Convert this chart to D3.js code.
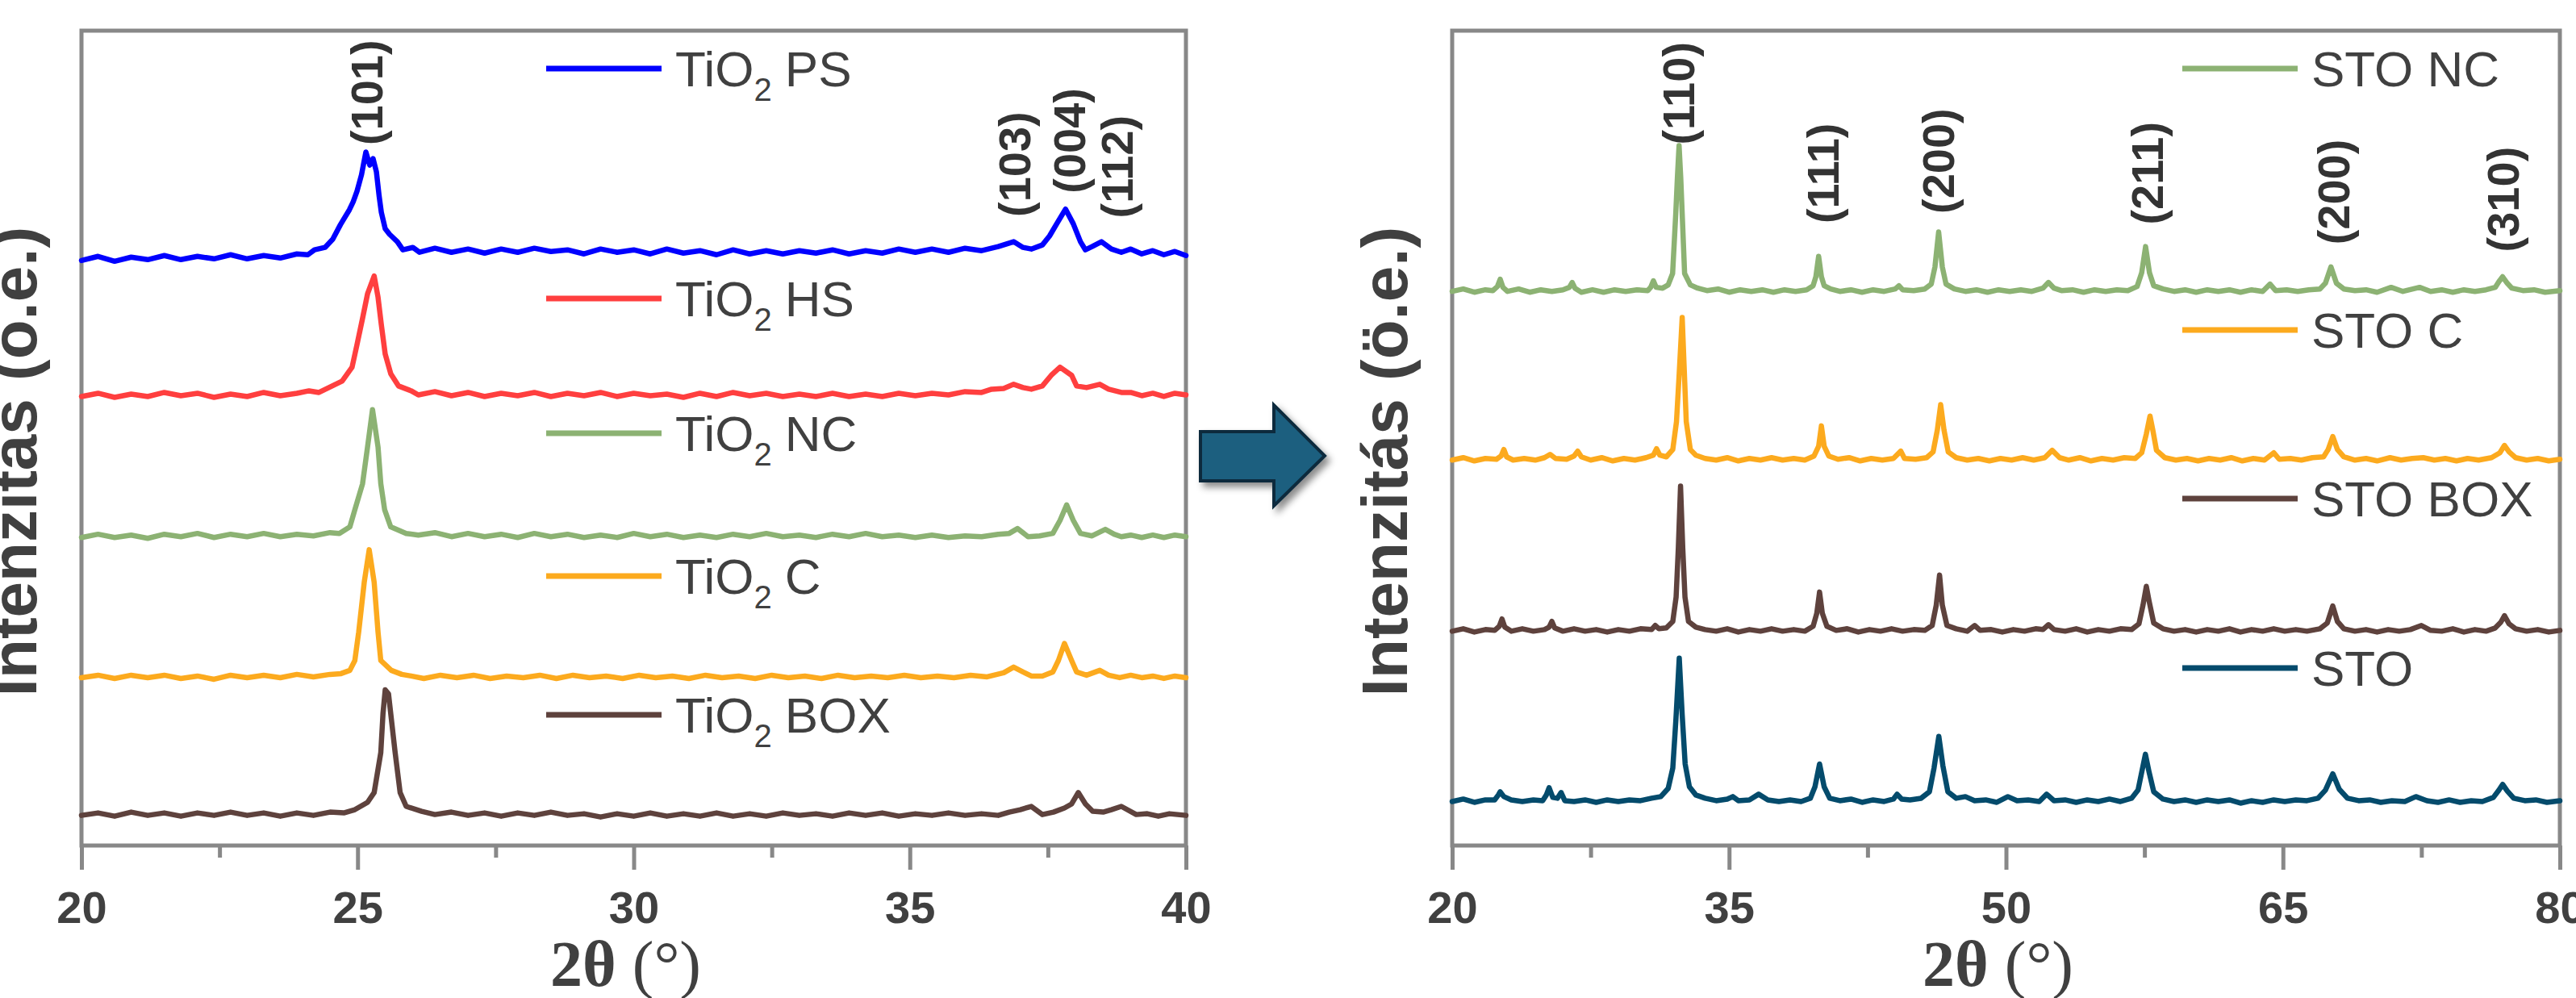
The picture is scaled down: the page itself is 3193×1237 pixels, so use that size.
<!DOCTYPE html>
<html lang="hu">
<head>
<meta charset="UTF-8"/>
<title>XRD TiO2 / STO</title>
<script src="https://d3js.org/d3.v7.min.js"></script>
<style>
  body { margin: 0; background: #fff; }
  svg { display: block; }
  text { font-family: "Liberation Sans", Arial, sans-serif; }
</style>
</head>
<body>
<script>
// ---- data: [2theta (deg), intensity (a.u., already stacked)] ----
var tio2Names = ["PS", "HS", "NC", "C", "BOX"];
var stoNames = ["STO NC", "STO C", "STO BOX", "STO"];

var tio2PS = [[20.0,71.8],[20.3,72.3],[20.6,71.7],[20.9,72.2],[21.2,71.9],[21.5,72.4],[21.8,71.9],[22.1,72.3],[22.4,72.0],[22.7,72.5],[23.0,72.0],[23.3,72.4],[23.6,72.1],[23.9,72.6],[24.1,72.5],[24.22,73.1],[24.41,73.4],[24.55,74.4],[24.69,76.2],[24.76,77.0],[24.85,78.0],[24.92,79.0],[24.99,80.3],[25.07,82.3],[25.15,85.1],[25.22,83.5],[25.28,84.3],[25.34,82.7],[25.39,79.7],[25.43,77.7],[25.5,75.7],[25.58,75.0],[25.72,74.1],[25.82,73.1],[26.0,73.4],[26.12,72.8],[26.4,73.3],[26.7,72.8],[27.0,73.2],[27.3,72.7],[27.6,73.2],[27.9,72.8],[28.2,73.3],[28.5,72.9],[28.8,73.1],[29.1,72.6],[29.4,73.2],[29.7,72.8],[30.0,73.1],[30.3,72.6],[30.6,73.2],[30.9,72.7],[31.2,73.0],[31.5,72.5],[31.8,73.1],[32.1,72.6],[32.4,73.0],[32.7,72.6],[33.0,73.0],[33.3,72.7],[33.6,73.1],[33.9,72.6],[34.2,73.0],[34.5,72.7],[34.8,73.2],[35.1,72.8],[35.4,73.2],[35.7,72.8],[36.0,73.3],[36.3,73.0],[36.6,73.5],[36.88,74.1],[37.05,73.4],[37.2,73.2],[37.4,73.7],[37.53,74.8],[37.66,76.3],[37.82,78.1],[37.96,76.3],[38.09,74.1],[38.18,73.1],[38.3,73.5],[38.47,74.1],[38.65,73.2],[38.83,72.8],[39.0,73.2],[39.2,72.6],[39.4,73.0],[39.6,72.5],[39.8,72.9],[40.0,72.4]];

var tio2HS = [[20.0,55.1],[20.3,55.5],[20.6,55.0],[20.9,55.4],[21.2,55.1],[21.5,55.6],[21.8,55.2],[22.1,55.5],[22.4,55.0],[22.7,55.4],[23.0,55.1],[23.3,55.6],[23.6,55.2],[23.9,55.5],[24.12,55.8],[24.3,55.6],[24.48,56.2],[24.72,57.0],[24.9,58.7],[24.99,61.5],[25.09,64.7],[25.18,67.7],[25.3,69.9],[25.37,67.3],[25.43,63.9],[25.5,60.3],[25.6,57.9],[25.74,56.4],[25.97,55.8],[26.1,55.3],[26.4,55.7],[26.7,55.2],[27.0,55.6],[27.3,55.1],[27.6,55.5],[27.9,55.2],[28.2,55.6],[28.5,55.1],[28.8,55.5],[29.1,55.2],[29.4,55.6],[29.7,55.1],[30.0,55.5],[30.3,55.2],[30.6,55.4],[30.9,55.0],[31.2,55.5],[31.5,55.1],[31.8,55.6],[32.1,55.2],[32.4,55.5],[32.7,55.1],[33.0,55.4],[33.3,55.1],[33.6,55.5],[33.9,55.1],[34.2,55.4],[34.5,55.1],[34.8,55.5],[35.1,55.2],[35.4,55.5],[35.7,55.3],[36.0,55.7],[36.3,55.6],[36.48,56.0],[36.7,56.1],[36.88,56.6],[37.05,56.2],[37.2,56.0],[37.4,56.4],[37.56,57.7],[37.72,58.7],[37.93,57.7],[38.02,56.4],[38.2,56.2],[38.44,56.6],[38.6,56.0],[38.83,55.6],[39.0,55.6],[39.2,55.2],[39.4,55.5],[39.6,55.1],[39.8,55.5],[40.0,55.3]];

var tio2NC = [[20.0,37.8],[20.3,38.2],[20.6,37.8],[20.9,38.1],[21.2,37.7],[21.5,38.2],[21.8,37.9],[22.1,38.3],[22.4,37.8],[22.7,38.2],[23.0,37.9],[23.3,38.3],[23.6,37.9],[23.9,38.2],[24.2,38.0],[24.5,38.4],[24.67,38.3],[24.86,39.1],[24.95,41.2],[25.09,44.4],[25.18,48.9],[25.27,53.5],[25.37,48.9],[25.42,44.4],[25.49,41.2],[25.6,39.1],[25.88,38.3],[26.1,38.1],[26.4,38.4],[26.7,37.9],[27.0,38.3],[27.3,37.9],[27.6,38.2],[27.9,37.8],[28.2,38.3],[28.5,37.9],[28.8,38.2],[29.1,37.8],[29.4,38.1],[29.7,37.8],[30.0,38.3],[30.3,37.9],[30.6,38.2],[30.9,37.8],[31.2,38.1],[31.5,37.8],[31.8,38.2],[32.1,37.9],[32.4,38.3],[32.7,37.9],[33.0,38.1],[33.3,37.8],[33.6,38.2],[33.9,37.9],[34.2,38.3],[34.5,37.9],[34.8,38.1],[35.1,37.8],[35.4,38.1],[35.7,37.8],[36.0,38.0],[36.3,37.9],[36.6,38.2],[36.8,38.3],[36.95,38.9],[37.14,37.9],[37.35,38.0],[37.59,38.3],[37.72,39.9],[37.84,41.8],[37.96,39.9],[38.09,38.3],[38.3,38.0],[38.54,38.8],[38.7,38.2],[38.83,37.9],[39.0,38.1],[39.2,37.8],[39.4,38.1],[39.6,37.8],[39.8,38.1],[40.0,37.9]];

var tio2C = [[20.0,20.6],[20.3,20.9],[20.6,20.5],[20.9,20.9],[21.2,20.6],[21.5,20.9],[21.8,20.5],[22.1,20.8],[22.4,20.4],[22.7,20.9],[23.0,20.6],[23.3,20.9],[23.6,20.6],[23.9,21.0],[24.2,20.7],[24.5,21.0],[24.7,21.1],[24.86,21.5],[24.95,22.7],[25.02,26.2],[25.12,32.3],[25.21,36.3],[25.3,32.3],[25.37,26.2],[25.42,22.7],[25.61,21.5],[25.8,21.0],[25.97,20.8],[26.2,20.5],[26.5,20.9],[26.8,20.6],[27.1,20.9],[27.4,20.5],[27.7,20.8],[28.0,20.6],[28.3,20.9],[28.6,20.5],[28.9,20.9],[29.2,20.6],[29.5,20.8],[29.8,20.5],[30.1,20.9],[30.4,20.6],[30.7,20.8],[31.0,20.5],[31.3,20.9],[31.6,20.6],[31.9,20.8],[32.2,20.5],[32.5,20.9],[32.8,20.6],[33.1,20.8],[33.4,20.5],[33.7,20.9],[34.0,20.6],[34.3,20.8],[34.6,20.6],[34.9,20.9],[35.2,20.6],[35.5,20.8],[35.8,20.6],[36.1,20.9],[36.4,20.7],[36.7,21.2],[36.88,21.9],[37.05,21.3],[37.2,20.8],[37.4,20.8],[37.59,21.3],[37.69,22.7],[37.8,24.8],[37.93,22.7],[38.02,21.3],[38.2,20.9],[38.44,21.5],[38.6,20.9],[38.8,20.6],[39.0,20.9],[39.2,20.6],[39.4,20.8],[39.6,20.5],[39.8,20.8],[40.0,20.6]];

var tio2BOX = [[20.0,3.7],[20.3,4.0],[20.6,3.6],[20.9,4.1],[21.2,3.7],[21.5,4.0],[21.8,3.6],[22.1,4.0],[22.4,3.7],[22.7,4.1],[23.0,3.7],[23.3,4.0],[23.6,3.6],[23.9,4.0],[24.2,3.7],[24.5,4.1],[24.75,4.0],[24.95,4.4],[25.18,5.3],[25.3,6.5],[25.42,11.4],[25.46,16.2],[25.5,19.1],[25.56,18.6],[25.6,16.2],[25.68,11.4],[25.77,6.5],[25.88,4.8],[26.16,4.2],[26.4,3.8],[26.7,4.1],[27.0,3.7],[27.3,4.0],[27.6,3.6],[27.9,4.0],[28.2,3.7],[28.5,4.1],[28.8,3.7],[29.1,3.9],[29.4,3.5],[29.7,3.9],[30.0,3.6],[30.3,4.0],[30.6,3.6],[30.9,3.9],[31.2,3.6],[31.5,4.0],[31.8,3.6],[32.1,3.9],[32.4,3.6],[32.7,4.0],[33.0,3.7],[33.3,3.9],[33.6,3.6],[33.9,4.0],[34.2,3.7],[34.5,4.0],[34.8,3.6],[35.1,3.9],[35.4,3.7],[35.7,4.0],[36.0,3.7],[36.3,3.9],[36.6,3.7],[36.8,4.1],[37.0,4.4],[37.2,4.8],[37.4,3.8],[37.6,4.1],[37.8,4.6],[37.93,5.1],[38.05,6.5],[38.18,5.1],[38.31,4.2],[38.5,4.1],[38.65,4.4],[38.83,4.8],[39.1,3.8],[39.3,3.9],[39.5,3.6],[39.7,3.9],[40.0,3.7]];

var stoNC = [[20.0,68.0],[20.6,68.3],[21.2,67.9],[21.8,68.2],[22.2,68.1],[22.45,68.6],[22.6,69.5],[22.75,68.5],[23.0,68.0],[23.6,68.3],[24.2,67.9],[24.8,68.2],[25.4,68.0],[26.0,68.2],[26.35,68.5],[26.5,69.1],[26.65,68.4],[27.0,67.9],[27.6,68.2],[28.2,67.9],[28.8,68.2],[29.4,68.0],[30.0,68.2],[30.6,68.1],[30.75,68.5],[30.9,69.3],[31.05,68.5],[31.4,68.4],[31.7,68.8],[31.94,70.2],[32.11,77.5],[32.2,82.0],[32.29,85.9],[32.38,82.0],[32.46,77.5],[32.59,70.2],[32.9,68.8],[33.3,68.4],[33.8,68.1],[34.4,68.3],[35.0,67.9],[35.6,68.2],[36.2,68.0],[36.8,68.2],[37.4,67.9],[38.0,68.2],[38.6,68.0],[39.2,68.2],[39.55,68.7],[39.7,69.8],[39.85,72.3],[40.0,69.8],[40.15,68.7],[40.5,68.3],[41.0,68.0],[41.6,68.2],[42.2,67.9],[42.8,68.2],[43.4,68.0],[44.0,68.3],[44.2,68.7],[44.4,68.2],[45.0,68.1],[45.6,68.3],[45.95,68.9],[46.15,71.0],[46.35,75.3],[46.55,71.0],[46.75,68.9],[47.2,68.3],[47.8,68.0],[48.4,68.2],[49.0,67.9],[49.6,68.2],[50.2,68.0],[50.8,68.2],[51.4,68.0],[52.0,68.4],[52.3,69.1],[52.6,68.4],[53.0,68.1],[53.6,68.2],[54.2,67.9],[54.8,68.2],[55.4,68.0],[56.0,68.2],[56.6,68.1],[57.1,68.6],[57.35,70.3],[57.56,73.5],[57.77,70.3],[58.0,68.7],[58.5,68.3],[59.1,68.0],[59.7,68.2],[60.3,67.9],[60.9,68.2],[61.5,68.0],[62.1,68.2],[62.7,67.9],[63.3,68.2],[63.9,68.0],[64.3,68.9],[64.6,68.1],[65.2,68.2],[65.8,68.0],[66.4,68.2],[67.0,68.3],[67.3,69.0],[67.6,71.0],[67.9,69.0],[68.3,68.3],[68.9,68.1],[69.5,68.2],[70.1,67.9],[70.86,68.5],[71.5,68.0],[72.4,68.5],[73.0,68.0],[73.6,68.2],[74.2,67.9],[74.8,68.2],[75.4,68.0],[76.0,68.2],[76.5,68.5],[76.7,69.2],[76.9,69.8],[77.15,69.0],[77.4,68.4],[78.0,68.1],[78.6,68.2],[79.2,67.9],[80.0,68.1]];

var stoC = [[20.0,47.3],[20.6,47.6],[21.2,47.2],[21.8,47.5],[22.4,47.4],[22.65,47.8],[22.8,48.6],[22.95,47.7],[23.3,47.3],[23.9,47.5],[24.5,47.3],[25.0,47.6],[25.3,48.0],[25.6,47.5],[26.2,47.4],[26.6,47.8],[26.8,48.4],[27.0,47.7],[27.5,47.3],[28.1,47.6],[28.7,47.2],[29.3,47.5],[29.9,47.3],[30.5,47.6],[30.9,47.9],[31.07,48.7],[31.25,47.9],[31.6,47.7],[31.95,48.6],[32.15,52.0],[32.3,58.0],[32.46,64.8],[32.56,59.0],[32.68,52.0],[32.9,48.6],[33.2,47.9],[33.7,47.5],[34.3,47.3],[34.9,47.6],[35.5,47.2],[36.1,47.5],[36.7,47.3],[37.3,47.6],[37.9,47.3],[38.5,47.5],[39.1,47.3],[39.6,47.8],[39.85,49.0],[40.0,51.5],[40.15,49.0],[40.4,47.8],[40.9,47.4],[41.5,47.6],[42.1,47.2],[42.7,47.5],[43.3,47.3],[43.9,47.5],[44.3,48.4],[44.5,47.5],[45.1,47.4],[45.7,47.6],[46.05,48.3],[46.28,51.0],[46.46,54.1],[46.64,51.0],[46.87,48.3],[47.3,47.6],[47.9,47.3],[48.5,47.5],[49.1,47.2],[49.7,47.5],[50.3,47.3],[50.9,47.6],[51.5,47.3],[52.1,47.6],[52.5,48.5],[52.9,47.6],[53.4,47.3],[54.0,47.6],[54.6,47.2],[55.2,47.5],[55.8,47.3],[56.4,47.6],[57.0,47.5],[57.35,48.2],[57.6,50.5],[57.8,52.7],[57.95,51.0],[58.15,48.5],[58.6,47.6],[59.2,47.3],[59.8,47.5],[60.4,47.2],[61.0,47.5],[61.6,47.3],[62.2,47.6],[62.8,47.2],[63.4,47.5],[64.0,47.3],[64.5,48.2],[64.8,47.4],[65.4,47.5],[66.0,47.3],[66.6,47.6],[67.2,47.7],[67.45,48.6],[67.7,50.2],[67.95,48.6],[68.3,47.7],[68.9,47.3],[69.5,47.5],[70.1,47.2],[70.8,47.6],[71.4,47.3],[72.0,47.5],[72.6,47.6],[73.2,47.3],[73.8,47.5],[74.4,47.2],[75.0,47.5],[75.6,47.3],[76.3,47.6],[76.75,48.2],[77.0,49.1],[77.25,48.3],[77.6,47.6],[78.2,47.3],[78.8,47.5],[79.4,47.2],[80.0,47.4]];

var stoBOX = [[20.0,26.3],[20.6,26.6],[21.2,26.2],[21.8,26.5],[22.3,26.4],[22.55,26.9],[22.7,27.8],[22.85,26.8],[23.2,26.3],[23.8,26.6],[24.4,26.3],[25.0,26.5],[25.25,26.8],[25.4,27.5],[25.55,26.7],[26.0,26.3],[26.6,26.6],[27.2,26.3],[27.8,26.5],[28.4,26.2],[29.0,26.5],[29.6,26.3],[30.2,26.6],[30.8,26.5],[31.0,27.0],[31.2,26.6],[31.6,26.7],[31.95,27.5],[32.13,30.5],[32.25,36.5],[32.37,44.1],[32.49,36.5],[32.61,30.5],[32.8,27.5],[33.2,26.8],[33.7,26.5],[34.3,26.3],[34.9,26.6],[35.5,26.2],[36.1,26.5],[36.7,26.3],[37.3,26.6],[37.9,26.3],[38.5,26.5],[39.1,26.3],[39.55,26.9],[39.75,28.5],[39.9,31.1],[40.05,28.5],[40.3,26.9],[40.8,26.4],[41.4,26.6],[42.0,26.2],[42.6,26.5],[43.2,26.3],[43.8,26.6],[44.4,26.3],[45.0,26.5],[45.6,26.4],[46.0,27.0],[46.22,29.5],[46.4,33.2],[46.55,29.5],[46.8,27.0],[47.3,26.6],[47.9,26.3],[48.3,27.0],[48.6,26.4],[49.2,26.5],[49.8,26.2],[50.4,26.5],[51.0,26.3],[51.6,26.6],[52.0,26.5],[52.3,27.1],[52.6,26.5],[53.2,26.3],[53.8,26.6],[54.4,26.2],[55.0,26.5],[55.6,26.3],[56.2,26.6],[56.8,26.5],[57.2,27.2],[57.42,29.5],[57.6,31.8],[57.75,30.0],[58.0,27.3],[58.5,26.6],[59.1,26.3],[59.7,26.5],[60.3,26.2],[60.9,26.5],[61.5,26.3],[62.1,26.6],[62.7,26.2],[63.3,26.5],[63.9,26.3],[64.5,26.6],[65.1,26.3],[65.7,26.5],[66.3,26.3],[67.0,26.6],[67.4,27.3],[67.7,29.4],[67.95,27.5],[68.3,26.6],[68.9,26.3],[69.5,26.5],[70.1,26.2],[70.7,26.5],[71.3,26.3],[71.9,26.5],[72.5,27.0],[73.0,26.4],[73.6,26.3],[74.2,26.6],[74.8,26.2],[75.4,26.5],[76.0,26.3],[76.5,26.7],[76.8,27.4],[77.0,28.2],[77.25,27.2],[77.6,26.6],[78.2,26.3],[78.8,26.5],[79.4,26.2],[80.0,26.4]];

var stoRef = [[20.0,5.4],[20.6,5.7],[21.2,5.3],[21.8,5.6],[22.3,5.6],[22.5,6.2],[22.6,6.6],[22.8,6.0],[23.2,5.6],[23.8,5.4],[24.4,5.6],[24.9,5.5],[25.1,6.2],[25.25,7.1],[25.45,5.9],[25.7,5.8],[25.9,6.5],[26.1,5.5],[26.6,5.4],[27.2,5.6],[27.8,5.3],[28.4,5.6],[29.0,5.4],[29.6,5.6],[30.2,5.5],[30.8,5.8],[31.3,6.0],[31.7,7.0],[31.95,9.5],[32.12,15.5],[32.3,23.0],[32.46,16.0],[32.62,10.0],[32.85,7.2],[33.2,6.2],[33.7,5.8],[34.3,5.5],[34.9,5.7],[35.2,6.0],[35.5,5.5],[36.1,5.6],[36.6,6.3],[37.1,5.6],[37.7,5.4],[38.3,5.6],[38.9,5.4],[39.4,5.8],[39.65,7.2],[39.9,10.0],[40.15,7.2],[40.45,5.8],[41.0,5.5],[41.6,5.7],[42.2,5.3],[42.8,5.6],[43.4,5.4],[43.9,5.7],[44.1,6.3],[44.35,5.7],[44.8,5.6],[45.4,5.8],[45.85,6.6],[46.1,9.5],[46.36,13.4],[46.58,9.8],[46.85,6.6],[47.3,5.8],[47.8,6.0],[48.3,5.5],[48.9,5.6],[49.5,5.3],[50.1,6.0],[50.6,5.5],[51.2,5.6],[51.8,5.4],[52.2,6.3],[52.6,5.5],[53.2,5.6],[53.8,5.3],[54.4,5.6],[55.0,5.4],[55.6,5.7],[56.2,5.4],[56.8,5.8],[57.15,6.8],[57.35,9.0],[57.55,11.2],[57.75,9.0],[58.0,6.6],[58.5,5.7],[59.1,5.4],[59.7,5.6],[60.3,5.3],[60.9,5.6],[61.5,5.4],[62.1,5.6],[62.7,5.2],[63.3,5.5],[63.9,5.3],[64.5,5.6],[65.1,5.4],[65.7,5.6],[66.3,5.5],[66.9,5.8],[67.3,6.8],[67.7,8.8],[68.05,6.9],[68.5,5.8],[69.1,5.5],[69.7,5.6],[70.3,5.3],[70.9,5.5],[71.6,5.4],[72.2,6.0],[72.8,5.5],[73.4,5.3],[74.0,5.6],[74.6,5.3],[75.2,5.5],[75.8,5.4],[76.4,5.9],[76.7,6.8],[76.9,7.5],[77.15,6.7],[77.5,5.8],[78.1,5.5],[78.7,5.6],[79.3,5.3],[80.0,5.5]];

var tio2Ticks = [20, 25, 30, 35, 40];
var tio2Minor = [22.5, 27.5, 32.5, 37.5];
var stoTicks = [20, 35, 50, 65, 80];
var stoMinor = [27.5, 42.5, 57.5, 72.5];

var tio2Hkl = ["(101)", "(103)", "(004)", "(112)"];
var tio2HklPos = [25.15, 36.88, 37.88, 38.74];
var tio2HklLevel = [92.4, 83.6, 86.5, 83.3];
var stoHkl = ["(110)", "(111)", "(200)", "(211)", "(200)", "(310)"];
var stoHklPos = [32.24, 40.07, 46.28, 57.6, 67.7, 76.9];
var stoHklLevel = [92.3, 82.5, 84.0, 82.5, 80.2, 79.3];

// ---- layout ----
var W = 3193, H = 1237;
var plotTop = 38, plotBottom = 1048;
var gray = "#888888", ink = "#404040";

var svg = d3.select("body").append("svg")
    .attr("width", W)
    .attr("height", H);

var defs = svg.append("defs");
defs.append("filter").attr("id", "shadow")
    .attr("x", "-20%").attr("y", "-20%").attr("width", "150%").attr("height", "150%")
  .append("feDropShadow")
    .attr("dx", 5).attr("dy", 6).attr("stdDeviation", 4)
    .attr("flood-color", "#000").attr("flood-opacity", 0.45);

var y = d3.scaleLinear().domain([0, 100]).range([plotBottom, plotTop]);

function drawPanel(p) {
  var x = d3.scaleLinear().domain(p.domain).range([p.left, p.right]);
  var g = svg.append("g");

  // minor ticks
  g.append("g")
    .attr("transform", "translate(0," + plotBottom + ")")
    .call(d3.axisBottom(x).tickValues(p.minor).tickSize(15).tickFormat(""))
    .call(function(a) { a.select(".domain").remove(); })
    .selectAll("line").attr("stroke", gray).attr("stroke-width", 5);

  // major ticks + labels
  var ax = g.append("g")
    .attr("transform", "translate(0," + plotBottom + ")")
    .call(d3.axisBottom(x).tickValues(p.ticks).tickSize(30).tickFormat(d3.format("d")));
  ax.select(".domain").remove();
  ax.selectAll("line").attr("stroke", gray).attr("stroke-width", 5);
  ax.selectAll("text")
    .attr("y", 96).attr("dy", null)
    .attr("fill", ink)
    .style("font-family", "'Liberation Sans', Arial, sans-serif")
    .style("font-size", "56px")
    .style("font-weight", "bold");

  // frame
  g.append("rect")
    .attr("x", p.left).attr("y", plotTop)
    .attr("width", p.right - p.left).attr("height", plotBottom - plotTop)
    .attr("fill", "none").attr("stroke", gray).attr("stroke-width", 5);

  // curves
  var line = d3.line()
    .x(function(d) { return x(d[0]); })
    .y(function(d) { return y(d[1]); });

  p.series.forEach(function(s, i) {
    g.append("path")
      .datum(s)
      .attr("d", line)
      .attr("fill", "none")
      .attr("stroke", p.colors[i])
      .attr("stroke-width", 6.5)
      .attr("stroke-linejoin", "round")
      .attr("stroke-linecap", "round");
  });

  // legend
  p.names.forEach(function(n, i) {
    var ly = p.legendY[i];
    g.append("line")
      .attr("x1", p.legendX).attr("x2", p.legendX + 143)
      .attr("y1", ly).attr("y2", ly)
      .attr("stroke", p.colors[i]).attr("stroke-width", 7);
    var t = g.append("text")
      .attr("x", p.legendX + 160).attr("y", ly + 22)
      .attr("fill", ink)
      .style("font-size", "62px");
    if (p.sub) {
      t.append("tspan").text("TiO");
      t.append("tspan").attr("dy", 18).style("font-size", "40px").text("2");
      t.append("tspan").attr("dy", -18).attr("dx", 16).text(n);
    } else {
      t.text(n);
    }
  });

  // hkl labels
  p.hkl.forEach(function(h, i) {
    g.append("text")
      .attr("transform", "translate(" + x(p.hklPos[i]) + "," + y(p.hklLevel[i]) + ") rotate(-90)")
      .attr("text-anchor", "middle")
      .attr("dy", "0.36em")
      .attr("fill", "#333333")
      .style("font-size", "56px")
      .style("font-weight", "bold")
      .text(h);
  });

  // y title
  g.append("text")
    .attr("transform", "translate(" + p.yTitleX + ",572) rotate(-90)")
    .attr("text-anchor", "middle")
    .attr("fill", ink)
    .style("font-size", "80px")
    .style("font-weight", "bold")
    .text(p.yTitle);

  // x title
  var xt = g.append("text")
    .attr("x", (p.left + p.right) / 2 - 10)
    .attr("y", 1222)
    .attr("text-anchor", "middle")
    .attr("fill", ink)
    .style("font-family", "'Liberation Serif', 'Times New Roman', serif")
    .style("font-size", "80px");
  xt.append("tspan").style("font-weight", "bold").text("2\u03b8");
  xt.append("tspan").text(" (\u00b0)");
}

drawPanel({
  domain: [20, 40], left: 101, right: 1470,
  ticks: tio2Ticks, minor: tio2Minor,
  series: [tio2PS, tio2HS, tio2NC, tio2C, tio2BOX],
  names: tio2Names, sub: true,
  colors: ["#0000ff", "#ff3f3f", "#8cb273", "#fcaa1e", "#5e423d"],
  legendX: 677, legendY: [85, 370, 537, 714, 886],
  hkl: tio2Hkl, hklPos: tio2HklPos, hklLevel: tio2HklLevel,
  yTitle: "Intenzitas (o.e.)", yTitleX: 45
});

drawPanel({
  domain: [20, 80], left: 1800, right: 3173,
  ticks: stoTicks, minor: stoMinor,
  series: [stoNC, stoC, stoBOX, stoRef],
  names: stoNames, sub: false,
  colors: ["#8cb273", "#fcaa1e", "#5e423d", "#044b6c"],
  legendX: 2705, legendY: [85, 409, 618, 828],
  hkl: stoHkl, hklPos: stoHklPos, hklLevel: stoHklLevel,
  yTitle: "Intenzitás (ö.e.)", yTitleX: 1744
});

// arrow between the panels
var arrow = [[1488, 535], [1579, 535], [1579, 502], [1642, 565], [1579, 627], [1579, 596], [1488, 596]];
svg.append("polygon")
  .attr("points", arrow.map(function(d) { return d.join(","); }).join(" "))
  .attr("fill", "#1b5e7f")
  .attr("stroke", "#0c2b3d")
  .attr("stroke-width", 4)
  .attr("stroke-linejoin", "miter")
  .attr("filter", "url(#shadow)");
</script>
</body>
</html>
